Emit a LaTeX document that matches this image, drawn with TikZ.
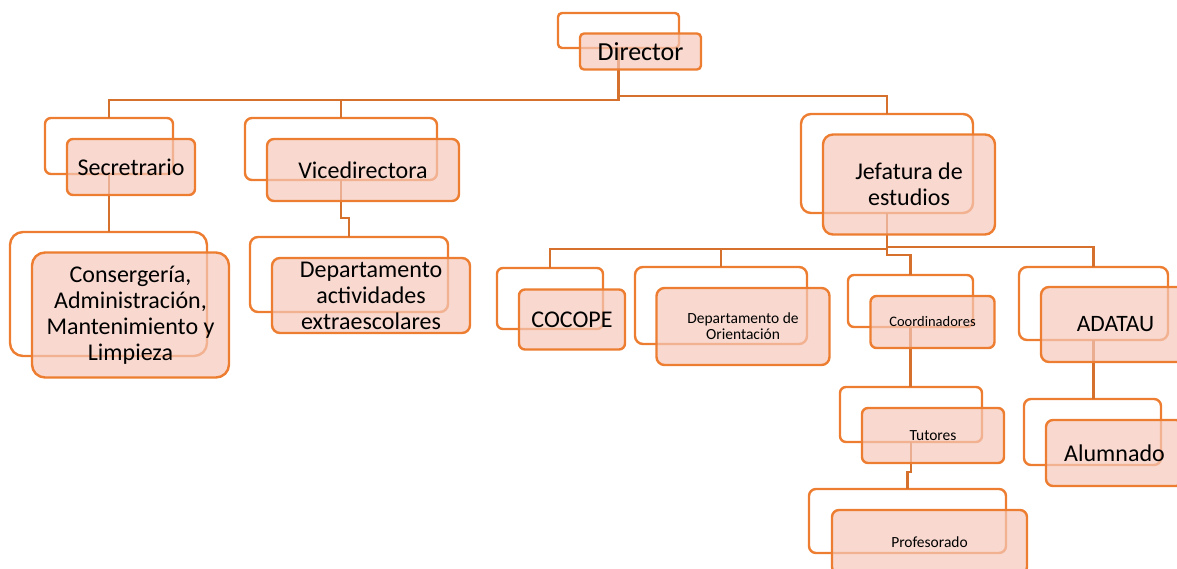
\documentclass[tikz,border=0pt]{standalone}
\usepackage{fontspec}
\setmainfont{Carlito}
\definecolor{boxline}{RGB}{237,125,49}
\definecolor{connline}{RGB}{214,112,45}
\definecolor{boxfill}{RGB}{245,200,186}
\tikzset{
  backbox/.style={draw=boxline, line width=2.4pt, inner sep=0pt, outer sep=0pt, fill=none},
  frontbox/.style={draw=boxline, line width=2.4pt, inner sep=0pt, outer sep=0pt,
     fill=boxfill, fill opacity=0.7, text opacity=1, align=center, text=black},
  conn/.style={draw=connline, line width=2.2pt},
  big/.style={font=\fontsize{24}{26}\selectfont},
  small/.style={font=\fontsize{15.5}{16}\selectfont},
}
\newcommand{\orgpair}[8]{%
  % #1 name, #2 x, #3 y (back centre), #4 w, #5 h, #6 radius, #7 style, #8 text
  \node[backbox, minimum width=#4, minimum height=#5, rounded corners=#6] (#1B) at (#2,#3) {};
}
\newcommand{\orgfront}[8]{%
  \node[frontbox, #7, minimum width=#4, minimum height=#5, rounded corners=#6] (#1F) at ([shift={(22,21)}]#1B.center) {#8};
}
\begin{document}
\begin{tikzpicture}[x=1pt,y=-1pt]
\useasboundingbox (0,0) rectangle (1177,569);
\clip (0,0) rectangle (1177,569);
% back boxes
\orgpair{dir}{618.5}{30.5}{121}{35}{4pt}{}{}
\orgpair{sec}{109}{146}{128}{56}{6pt}{}{}
\orgpair{vice}{341}{149}{192}{62}{7pt}{}{}
\orgpair{cons}{108.5}{294}{197}{124}{13pt}{}{}
\orgpair{dact}{349}{274.5}{198}{75}{8pt}{}{}
\orgpair{jef}{887}{163.5}{172}{99}{10pt}{}{}
\orgpair{coc}{550}{298.5}{106}{61}{6pt}{}{}
\orgpair{dor}{721}{305.5}{172}{77}{8pt}{}{}
\orgpair{coord}{910.5}{301}{125}{52}{6pt}{}{}
\orgpair{ada}{1093.5}{303.5}{149}{73}{8pt}{}{}
\orgpair{tut}{911}{414.5}{142}{55}{6pt}{}{}
\orgpair{prof}{907.5}{521}{197}{64}{7pt}{}{}
\orgpair{alum}{1092.5}{432}{137}{66}{7pt}{}{}
% connectors
\draw[conn] (dirB.south) -- ++(0,52) coordinate (dj) -| (secB.north);
\draw[conn] (dj) -| (viceB.north);
\draw[conn] ([yshift=4pt]dj) -| (jefB.north);
\draw[conn] (secB.south) -- (secB.south |- consB.north);
\draw[conn] (viceB.south) -- ++(0,38) -| (dactB.north);
\draw[conn] (jefB.south) -- ++(0,36) coordinate (jj) -| (cocB.north);
\draw[conn] (jj) -| (dorB.north);
\draw[conn] ([yshift=2pt]jj) -| (adaB.north);
\draw[conn] (jj) -- ++(0,6) -| (coordB.north);
\draw[conn] (coordB.south) -- (coordB.south |- tutB.north);
\draw[conn] (tutB.south) -- ++(0,30) -| (profB.north);
\draw[conn] (adaB.south) -- (adaB.south |- alumB.north);
% front boxes
\orgfront{dir}{}{}{121}{36}{4pt}{font=\fontsize{26}{28}\selectfont}{Director}
\orgfront{sec}{}{}{128}{56}{6pt}{big}{Secretrario}
\orgfront{vice}{}{}{192}{62}{7pt}{big}{Vicedirectora}
\orgfront{cons}{}{}{197}{125}{13pt}{big}{Consergería,\\Administración,\\Mantenimiento y\\Limpieza}
\orgfront{dact}{}{}{198}{75}{8pt}{big}{Departamento\\actividades\\extraescolares}
\orgfront{jef}{}{}{172}{100}{10pt}{big}{Jefatura de\\estudios}
\orgfront{coc}{}{}{106}{60}{6pt}{big}{COCOPE}
\orgfront{dor}{}{}{173}{77}{8pt}{small}{Departamento de\\Orientación}
\orgfront{coord}{}{}{124}{52}{6pt}{font=\fontsize{14.5}{16}\selectfont}{Coordinadores}
\orgfront{ada}{}{}{149}{75}{8pt}{font=\fontsize{23.5}{26}\selectfont}{ADATAU}
\orgfront{tut}{}{}{142}{55}{6pt}{small}{Tutores}
\orgfront{prof}{}{}{195}{64}{7pt}{small}{Profesorado}
\orgfront{alum}{}{}{137}{66}{7pt}{big}{Alumnado}
\end{tikzpicture}
\end{document}
